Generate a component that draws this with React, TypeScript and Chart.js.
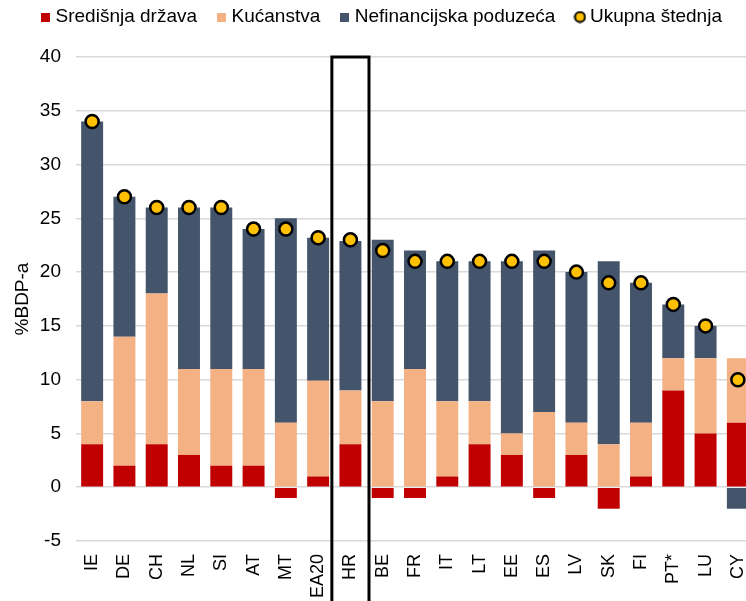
import React, { useEffect, useRef } from "react";
import { Chart, registerables } from "chart.js";

Chart.register(...registerables);

const categories = ["IE", "DE", "CH", "NL", "SI", "AT", "MT", "EA20", "HR", "BE", "FR", "IT", "LT", "EE", "ES", "LV", "SK", "FI", "PT*", "LU", "CY"];
const centralGov = [4, 2, 4, 3, 2, 2, -1, 1, 4, -1, -1, 1, 4, 3, -1, 3, -2, 1, 9, 5, 6];
const households = [4, 12, 14, 8, 9, 9, 6, 8.9, 5, 8, 11, 7, 4, 2, 7, 3, 4, 5, 3, 7, 6];
const corporations = [26, 13, 8, 15, 15, 13, 19, 13.3, 13.9, 15, 11, 13, 13, 16, 15, 14, 17, 13, 5, 3, -2];
const totalSavings = [34, 27, 26, 26, 26, 24, 24, 23.2, 23, 22, 21, 21, 21, 21, 21, 20, 19, 19, 17, 15, 10];
const highlight = "HR";

const FONT = "'Liberation Sans', Arial, sans-serif";
const RED = "#C00000";
const PEACH = "#F4B183";
const NAVY = "#44546A";
const GOLD = "#FFC000";

function squareMarker(color: string) {
  const c = document.createElement("canvas");
  c.width = 9;
  c.height = 9;
  const g = c.getContext("2d")!;
  g.fillStyle = color;
  g.fillRect(0, 0, 9, 9);
  return c;
}
function dotMarker() {
  const c = document.createElement("canvas");
  c.width = 13;
  c.height = 13;
  const g = c.getContext("2d")!;
  g.beginPath();
  g.arc(6.5, 6.5, 5, 0, Math.PI * 2);
  g.fillStyle = GOLD;
  g.fill();
  g.lineWidth = 2;
  g.strokeStyle = "#000";
  g.stroke();
  return c;
}

const boxPlugin = {
  id: "hrBox",
  afterDatasetsDraw(chart: any) {
    const x = chart.scales.x;
    const y = chart.scales.y;
    const idx = categories.indexOf(highlight);
    const cx = x.getPixelForValue(idx);
    const w = (x.width / categories.length) * 1.15;
    const top = y.getPixelForValue(40);
    const ctx = chart.ctx;
    ctx.save();
    ctx.strokeStyle = "#000";
    ctx.lineWidth = 3;
    ctx.beginPath();
    ctx.moveTo(cx - w / 2, chart.height + 10);
    ctx.lineTo(cx - w / 2, top);
    ctx.lineTo(cx + w / 2, top);
    ctx.lineTo(cx + w / 2, chart.height + 10);
    ctx.stroke();
    ctx.restore();
  },
};

const legendFix = {
  id: "legendFix",
  afterInit(chart: any) {
    const lg = chart.legend;
    if (!lg) return;
    const orig = lg.fit.bind(lg);
    lg.fit = function () {
      orig();
      this.height = 57;
    };
  },
  afterLayout(chart: any) {
    const lg = chart.legend;
    if (!lg) return;
    lg.top = -16.5;
    lg.bottom = lg.top + lg.height;
    lg.left += 2;
    lg.right += 2;
  },
};

export default function App() {
  const ref = useRef<HTMLCanvasElement | null>(null);
  useEffect(() => {
    if (!ref.current) return;
    const markers = [squareMarker(RED), squareMarker(PEACH), squareMarker(NAVY), dotMarker()];
    const chart = new Chart(ref.current, {
      type: "bar",
      data: {
        labels: categories,
        datasets: [
          { type: "bar", label: "Središnja država", data: centralGov, backgroundColor: RED, stack: "s", order: 1 },
          { type: "bar", label: "Kućanstva", data: households, backgroundColor: PEACH, stack: "s", order: 1 },
          { type: "bar", label: "Nefinancijska poduzeća", data: corporations, backgroundColor: NAVY, stack: "s", order: 1 },
          {
            type: "line",
            label: "Ukupna štednja",
            data: totalSavings,
            showLine: false,
            stack: "t",
            order: 0,
            backgroundColor: GOLD,
            borderColor: "#000",
            borderWidth: 2.5,
            pointStyle: "circle",
            pointRadius: 6.5,
            pointBackgroundColor: GOLD,
            pointBorderColor: "#000",
            pointBorderWidth: 2.5,
          } as any,
        ],
      },
      options: {
        responsive: false,
        animation: false,
        devicePixelRatio: 1,
        layout: { padding: { top: 0, left: 0, right: 0, bottom: 0 } },
        datasets: { bar: { barPercentage: 0.68, categoryPercentage: 1 } } as any,
        plugins: {
          tooltip: { enabled: false },
          legend: {
            position: "top",
            labels: {
              usePointStyle: true,
              boxWidth: 1,
              boxHeight: 9,
              padding: 24,
              color: "#000",
              font: { family: FONT, size: 19 },
              sort: (a: any, b: any) => a.datasetIndex - b.datasetIndex,
              generateLabels: (c: any) =>
                (Chart.defaults.plugins.legend.labels.generateLabels as any)(c).map((l: any) => ({
                  ...l,
                  pointStyle: markers[l.datasetIndex],
                })),
            },
          },
        },
        scales: {
          x: {
            stacked: true,
            grid: { display: false, drawTicks: false },
            border: { display: false },
            ticks: {
              minRotation: 90,
              maxRotation: 90,
              padding: 13,
              color: "#000",
              font: { family: FONT, size: 18 },
            },
            afterFit: (s: any) => {
              s.height = 60;
              s.paddingLeft = 0;
              s.paddingRight = 0;
            },
          },
          y: {
            stacked: true,
            min: -5,
            max: 40,
            grid: { color: "#d9d9d9", lineWidth: 1.5, drawTicks: false },
            border: { display: false },
            ticks: { stepSize: 5, padding: 15, color: "#000", font: { family: FONT, size: 19 } },
            title: {
              display: true,
              text: "%BDP-a",
              color: "#000",
              font: { family: FONT, size: 19 },
              padding: { top: 11, bottom: 0 },
            },
            afterFit: (s: any) => {
              s.width = 76;
              s.paddingTop = 0;
              s.paddingBottom = 0;
            },
          },
        },
      },
      plugins: [boxPlugin, legendFix],
    });
    return () => chart.destroy();
  }, []);
  return (
    <div style={{ position: "fixed", left: 0, top: 0, width: 746, height: 601, overflow: "hidden", background: "#fff" }}>
      <canvas ref={ref} width={763} height={601} style={{ width: 763, height: 601, display: "block" }} />
    </div>
  );
}
